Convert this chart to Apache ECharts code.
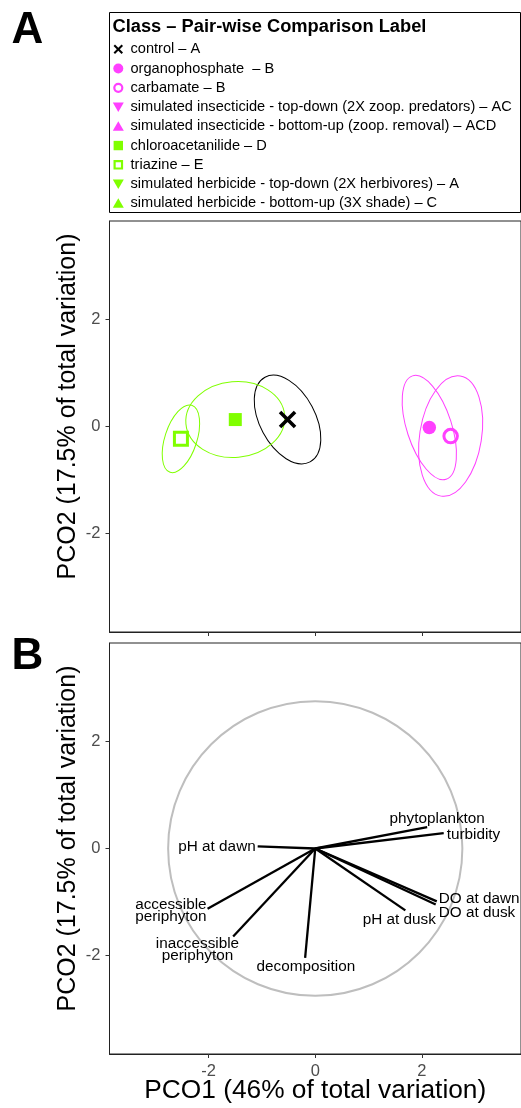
<!DOCTYPE html>
<html><head><meta charset="utf-8">
<script src="https://cdn.jsdelivr.net/npm/echarts@6/dist/echarts.min.js"></script>
<style>html,body{margin:0;padding:0;background:#fff}#c{width:521px;height:1108px}</style>
</head><body><div id="c"></div>
<script>
const FONT = '"Liberation Sans", Arial, Helvetica, sans-serif';
const PINK = '#ff40ff', GREEN = '#80ff00', BLACK = '#000000';

// ---- Legend ----
const legendTitle = 'Class – Pair-wise Comparison Label';
const legendLabels = [
  'control – A',
  'organophosphate  – B',
  'carbamate – B',
  'simulated insecticide - top-down (2X zoop. predators) – AC',
  'simulated insecticide - bottom-up (zoop. removal) – ACD',
  'chloroacetanilide – D',
  'triazine – E',
  'simulated herbicide - top-down (2X herbivores) – A',
  'simulated herbicide - bottom-up (3X shade) – C'
];
const legendShapes = ['cross','circle','openCircle','triDown','triUp','square','openSquare','triDown','triUp'];
const legendColors = [BLACK, PINK, PINK, PINK, PINK, GREEN, GREEN, GREEN, GREEN];

// ---- Panel A: group centroids and ellipses ----
const groups = ['control','organophosphate','carbamate','chloroacetanilide','triazine'];
const centroidX = [-0.52, 2.14, 2.54, -1.50, -2.52];
const centroidY = [0.13, -0.02, -0.18, 0.13, -0.23];
const ellipseSemiMajor = [0.90, 1.02, 1.14, 0.93, 0.66];
const ellipseSemiMinor = [0.52, 0.42, 0.58, 0.71, 0.30];
const ellipseAngleDeg = [-62, -72, 81, 5, 72];

// ---- Panel B: variable vectors ----
const variables = ['pH at dawn','phytoplankton','turbidity','DO at dawn','DO at dusk','pH at dusk','decomposition','inaccessible\nperiphyton','accessible\nperiphyton'];
const vectorX = [-1.08, 2.10, 2.41, 2.28, 2.26, 1.69, -0.19, -1.54, -2.02];
const vectorY = [0.04, 0.40, 0.29, -0.99, -1.05, -1.16, -2.05, -1.65, -1.13];
const circleRadius = 2.76;

// ---- Axes ----
const tickValues = [-2, 0, 2];
const xLimit = 3.86, yLimit = 3.85;
const xTitle = 'PCO1 (46% of total variation)';
const yTitle = 'PCO2 (17.5% of total variation)';

// styles (not data)
const groupColors = [BLACK, PINK, PINK, GREEN, GREEN];
const labelLayout = [ // align, dx, dy in px relative to vector tip
  ['right', -2, 0], ['center', 10, -8], ['left', 3, 1.5], ['left', 2, -2.5], ['left', 3, 8],
  ['center', -6, 9], ['center', 0.7, 8.4], ['center', -35.7, 13.3], ['right', -1, 2]
];

function legendSymbol(shape, color, cx, cy) {
  switch (shape) {
    case 'cross': return {type:'group', children:[
      {type:'line', shape:{x1:cx-4,y1:cy-4,x2:cx+4,y2:cy+4}, style:{stroke:color,lineWidth:2}},
      {type:'line', shape:{x1:cx-4,y1:cy+4,x2:cx+4,y2:cy-4}, style:{stroke:color,lineWidth:2}}]};
    case 'circle': return {type:'circle', shape:{cx, cy, r:5}, style:{fill:color}};
    case 'openCircle': return {type:'circle', shape:{cx, cy, r:4}, style:{fill:'none', stroke:color, lineWidth:2.2}};
    case 'square': return {type:'rect', shape:{x:cx-4.7, y:cy-4.7, width:9.4, height:9.4}, style:{fill:color}};
    case 'openSquare': return {type:'rect', shape:{x:cx-3.7, y:cy-3.7, width:7.4, height:7.4}, style:{fill:'none', stroke:color, lineWidth:2.2}};
    case 'triDown': return {type:'polygon', shape:{points:[[cx-5.5,cy-4.5],[cx+5.5,cy-4.5],[cx,cy+5]]}, style:{fill:color}};
    case 'triUp': return {type:'polygon', shape:{points:[[cx-5.5,cy+4.5],[cx+5.5,cy+4.5],[cx,cy-5]]}, style:{fill:color}};
  }
}

const graphics = [
  {type:'text', x:27.5, y:31, style:{text:'A', fontSize:44, fontWeight:'bold', fontFamily:FONT, fill:'#000', align:'center', verticalAlign:'middle', textAlign:'center', textVerticalAlign:'middle'}},
  {type:'text', x:27.5, y:657, style:{text:'B', fontSize:44, fontWeight:'bold', fontFamily:FONT, fill:'#000', align:'center', verticalAlign:'middle', textAlign:'center', textVerticalAlign:'middle'}},
  {type:'rect', shape:{x:109.5, y:12.5, width:411, height:200}, style:{fill:'#fff', stroke:'#000', lineWidth:1}},
  {type:'text', x:112.5, y:27, style:{text:legendTitle, fontSize:18.3, fontWeight:'bold', fontFamily:FONT, fill:'#000', align:'left', verticalAlign:'middle', textAlign:'left', textVerticalAlign:'middle'}}
];
legendLabels.forEach((lab, i) => {
  const cy = 49.3 + i * 19.25;
  graphics.push(legendSymbol(legendShapes[i], legendColors[i], 118.3, cy));
  graphics.push({type:'text', x:130.5, y:cy, style:{text:lab, fontSize:14.6, fontFamily:FONT, fill:'#000', align:'left', verticalAlign:'middle', textAlign:'left', textVerticalAlign:'middle'}});
});

function makeX(gi, withLabels) {
  const ax = {
    gridIndex: gi, type:'value', min:-xLimit, max:xLimit,
    axisLine:{show:true, onZero:false, lineStyle:{color:'#222', width:1}},
    axisTick:{show:true, customValues:tickValues, length:4, lineStyle:{color:'#333'}},
    axisLabel:{show:withLabels, customValues:tickValues, color:'#4d4d4d', fontSize:16.5, fontFamily:FONT, margin:9},
    splitLine:{show:false}
  };
  if (withLabels) {
    Object.assign(ax, {name:xTitle, nameLocation:'middle', nameGap:24, nameMoveOverlap:false,
      nameTextStyle:{fontSize:26.3, color:'#000', fontFamily:FONT}});
  }
  return ax;
}
function makeY(gi, shift) {
  return {
    gridIndex: gi, type:'value', min:-yLimit, max:yLimit,
    axisLine:{show:true, onZero:false, lineStyle:{color:'#222', width:1}},
    axisTick:{show:true, customValues:tickValues, length:4, lineStyle:{color:'#333'}},
    axisLabel:{show:true, customValues:tickValues, color:'#4d4d4d', fontSize:16.5, fontFamily:FONT, margin:9},
    splitLine:{show:false},
    name:yTitle, nameLocation:'middle', nameGap:28.5, nameMoveOverlap:false,
    nameTextStyle:{fontSize:25, color:'#000', fontFamily:FONT, padding:[0,0,0,shift*2]}
  };
}

const option = {
  animation:false,
  backgroundColor:'#fff',
  grid:[
    {left:109.5, top:221, width:413, height:411, show:true, borderColor:'#222', borderWidth:1},
    {left:109.5, top:643, width:413, height:411, show:true, borderColor:'#222', borderWidth:1}
  ],
  xAxis:[makeX(0, false), makeX(1, true)],
  yAxis:[makeY(0, 20), makeY(1, 10)],
  graphic: graphics,
  series:[
    {
      type:'custom', xAxisIndex:0, yAxisIndex:0, silent:true,
      data: groups.map((g,i)=>[centroidX[i], centroidY[i], ellipseSemiMajor[i], ellipseSemiMinor[i], ellipseAngleDeg[i], i]),
      renderItem(params, api) {
        const c = api.coord([api.value(0), api.value(1)]);
        const s = api.size([api.value(2), api.value(3)]);
        return {type:'ellipse', x:c[0], y:c[1], rotation: api.value(4) * Math.PI / 180,
          shape:{cx:0, cy:0, rx:s[0], ry:s[1]},
          style:{fill:'none', stroke:groupColors[api.value(5)], lineWidth:1}};
      }
    },
    {type:'scatter', xAxisIndex:0, yAxisIndex:0, silent:true, data:[[centroidX[0], centroidY[0]]],
      symbol:'path://M0,0L10,10M10,0L0,10', symbolSize:15,
      itemStyle:{color:'rgba(0,0,0,0)', borderColor:BLACK, borderWidth:3.6, opacity:1}},
    {type:'scatter', xAxisIndex:0, yAxisIndex:0, silent:true, data:[[centroidX[1], centroidY[1]]],
      symbol:'circle', symbolSize:13.5, itemStyle:{color:PINK, opacity:1}},
    {type:'scatter', xAxisIndex:0, yAxisIndex:0, silent:true, data:[[centroidX[2], centroidY[2]]],
      symbol:'circle', symbolSize:13.5, itemStyle:{color:'rgba(0,0,0,0)', borderColor:PINK, borderWidth:3, opacity:1}},
    {type:'scatter', xAxisIndex:0, yAxisIndex:0, silent:true, data:[[centroidX[3], centroidY[3]]],
      symbol:'rect', symbolSize:13, itemStyle:{color:GREEN, opacity:1}},
    {type:'scatter', xAxisIndex:0, yAxisIndex:0, silent:true, data:[[centroidX[4], centroidY[4]]],
      symbol:'rect', symbolSize:13, itemStyle:{color:'rgba(0,0,0,0)', borderColor:GREEN, borderWidth:3, opacity:1}},
    {
      type:'custom', xAxisIndex:1, yAxisIndex:1, silent:true,
      data:[[0, 0, circleRadius]],
      renderItem(params, api) {
        const c = api.coord([api.value(0), api.value(1)]);
        const s = api.size([api.value(2), api.value(2)]);
        return {type:'ellipse', shape:{cx:c[0], cy:c[1], rx:s[0], ry:s[1]},
          style:{fill:'none', stroke:'#bebebe', lineWidth:2}};
      }
    },
    {
      type:'custom', xAxisIndex:1, yAxisIndex:1, silent:true,
      data: variables.map((v,i)=>[vectorX[i], vectorY[i], i]),
      renderItem(params, api) {
        const i = api.value(2);
        const o = api.coord([0, 0]);
        const t = api.coord([api.value(0), api.value(1)]);
        const L = labelLayout[i];
        return {type:'group', children:[
          {type:'line', shape:{x1:o[0], y1:o[1], x2:t[0], y2:t[1]}, style:{stroke:'#000', lineWidth:2.3}},
          {type:'text', x:t[0] + L[1], y:t[1] + L[2], style:{text:variables[i], fontSize:15.3, fontFamily:FONT, fill:'#000',
            align:L[0], verticalAlign:'middle', textAlign:L[0], textVerticalAlign:'middle', lineHeight:12}}
        ]};
      }
    }
  ]
};
const chart = echarts.init(document.getElementById('c'), null, {renderer:'canvas'});
chart.setOption(option);
</script></body></html>
